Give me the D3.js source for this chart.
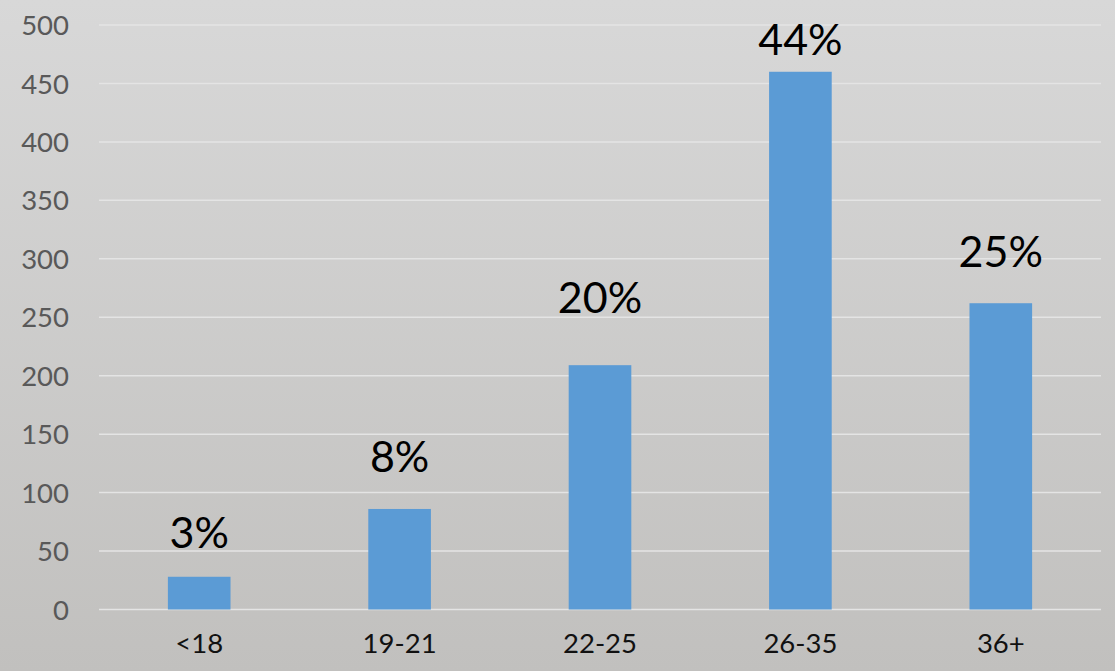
<!DOCTYPE html>
<html><head><meta charset="utf-8">
<script src="https://cdn.jsdelivr.net/npm/d3@7"></script>
<style>html,body{margin:0;padding:0;overflow:hidden;}</style>
</head><body>
<svg id="c" width="1115" height="671"></svg>
<script>
const categories = ["<18", "19-21", "22-25", "26-35", "36+"];
const counts = [28, 86, 209, 460, 262];
const pctLabels = ["3%", "8%", "20%", "44%", "25%"];
// baseline of each percent label, in axis units (labels were placed by hand)
const labelAt = [52.7, 118, 254, 474, 293];
const yTicks = [0, 50, 100, 150, 200, 250, 300, 350, 400, 450, 500];

const W = 1115, H = 671;
const m = {left: 99, right: 14, top: 25, bottom: 61.5};
const svg = d3.select("#c");
const defs = svg.append("defs");
const g1 = defs.append("linearGradient").attr("id","bg").attr("x1",0).attr("y1",0).attr("x2",0).attr("y2",1);
g1.append("stop").attr("offset","0%").attr("stop-color","#d8d8d8");
g1.append("stop").attr("offset","100%").attr("stop-color","#c1c0be");
svg.append("rect").attr("width",W).attr("height",H).attr("fill","url(#bg)");

const x = d3.scaleBand().domain(categories).range([m.left, W - m.right]).paddingInner(0.6875).paddingOuter(0.34375);
const y = d3.scaleLinear().domain([0, 500]).range([H - m.bottom, m.top]);

// gridlines
svg.append("g").selectAll("line").data(yTicks).join("line")
  .attr("x1", m.left).attr("x2", W - m.right)
  .attr("y1", d => y(d)).attr("y2", d => y(d))
  .attr("stroke", "#e4e4e4").attr("stroke-width", 1.5);

// y axis labels
const ya = svg.append("g").attr("transform", `translate(${m.left - 30},0)`)
  .call(d3.axisLeft(y).tickValues(yTicks).tickSize(0).tickPadding(0));
ya.select(".domain").remove();
ya.selectAll("text").attr("font-family","Lato, 'Open Sans', sans-serif").attr("font-size", 27.5).attr("fill","#595959").attr("dy","0.35em");

// x axis labels
const xa = svg.append("g").attr("transform", `translate(0,${H - m.bottom})`)
  .call(d3.axisBottom(x).tickSize(0).tickPadding(43));
xa.select(".domain").remove();
xa.selectAll("text").attr("font-family","Lato, 'Open Sans', sans-serif").attr("font-size", 27.5).attr("fill","#111").attr("dy","0");

// bars
svg.append("g").selectAll("rect").data(counts).join("rect")
  .attr("x", (d,i) => x(categories[i])).attr("width", x.bandwidth())
  .attr("y", d => y(d)).attr("height", d => y(0) - y(d))
  .attr("fill", "#5b9bd5");

// percent labels
svg.append("g").selectAll("text").data(labelAt).join("text")
  .attr("x", (d,i) => x(categories[i]) + x.bandwidth()/2)
  .attr("y", d => y(d))
  .attr("text-anchor","middle")
  .attr("font-family","Lato, 'Open Sans', sans-serif").attr("font-size", 43).attr("fill","#000")
  .text((d,i) => pctLabels[i]);
</script>
</body></html>
